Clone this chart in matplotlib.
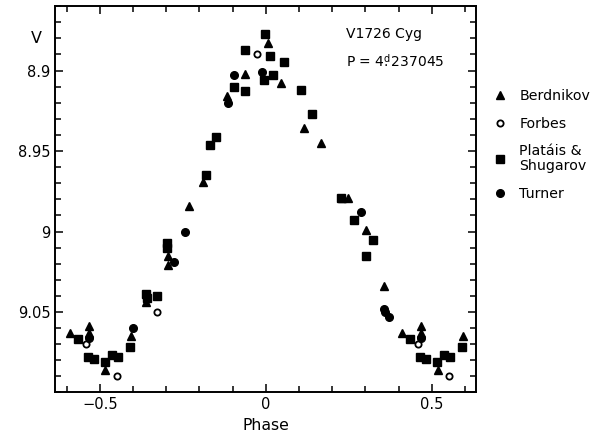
import numpy as np
import matplotlib
matplotlib.use("Agg")
import matplotlib.pyplot as plt
from matplotlib.ticker import MultipleLocator, FuncFormatter

plt.rcParams['font.family'] = ['DejaVu Sans']
plt.rcParams['mathtext.fontset'] = 'dejavusans'

## phase, V  (one cycle; points with phase >= 0.4 are repeated at phase-1)
berd_phase = [-0.362, -0.296, -0.294, -0.232, -0.188, -0.116, -0.062, 0.007, 0.047,
              0.116, 0.165, 0.229, 0.246, 0.303, 0.357, 0.411, 0.467, 0.467, 0.517, 0.594]
berd_v = [9.044, 9.015, 9.021, 8.984, 8.969, 8.916, 8.902, 8.883, 8.908,
          8.936, 8.945, 8.979, 8.979, 8.999, 9.034, 9.063, 9.059, 9.063, 9.086, 9.065]

forbes_phase = [-0.327, -0.026, 0.458, 0.551]
forbes_v = [9.050, 8.890, 9.070, 9.090]

plat_phase = [-0.362, -0.359, -0.327, -0.298, -0.298, -0.181, -0.169, -0.151, -0.097,
              -0.062, -0.062, -0.007, -0.003, 0.012, 0.023, 0.055, 0.107, 0.140,
              0.226, 0.266, 0.301, 0.322, 0.435, 0.463, 0.482, 0.515, 0.537, 0.554, 0.592]
plat_v = [9.039, 9.041, 9.040, 9.007, 9.010, 8.965, 8.946, 8.941, 8.910,
          8.887, 8.913, 8.906, 8.877, 8.891, 8.903, 8.895, 8.912, 8.927,
          8.979, 8.993, 9.015, 9.005, 9.067, 9.078, 9.079, 9.081, 9.077, 9.078, 9.072]

turner_phase = [-0.399, -0.278, -0.244, -0.113, -0.095, -0.013, 0.285, 0.355, 0.358, 0.370, 0.467]
turner_v = [9.060, 9.019, 9.000, 8.920, 8.903, 8.901, 8.988, 9.048, 9.050, 9.053, 9.066]

y_ticks = [8.9, 8.95, 9.0, 9.05]
x_ticks = [-0.5, 0, 0.5]


def wrap(phase, v):
    ## repeat the cycle so the diagram covers -0.6 .. 0.6
    phase = np.array(phase)
    v = np.array(v)
    sel = phase >= 0.4
    return np.concatenate([phase, phase[sel] - 1]), np.concatenate([v, v[sel]])


fig = plt.figure(figsize=(6.08, 4.40), dpi=100)
ax = fig.add_axes([0.091, 0.108, 0.692, 0.878])

p, v = wrap(berd_phase, berd_v)
ax.plot(p, v, '^', color='k', ms=6, ls='none', label='Berdnikov')
p, v = wrap(forbes_phase, forbes_v)
ax.plot(p, v, 'o', mfc='white', mec='k', mew=1.3, ms=4.5, ls='none', label='Forbes')
p, v = wrap(plat_phase, plat_v)
ax.plot(p, v, 's', color='k', ms=5.5, ls='none', label='Plat\u00e1is &\nShugarov')
p, v = wrap(turner_phase, turner_v)
ax.plot(p, v, 'o', color='k', ms=5.5, ls='none', label='Turner')

ax.set_xlim(-0.634, 0.633)
ax.set_ylim(9.1, 8.86)
ax.set_xticks(x_ticks)
ax.set_yticks(y_ticks)
ax.xaxis.set_minor_locator(MultipleLocator(0.1))
ax.yaxis.set_minor_locator(MultipleLocator(0.01))
ax.xaxis.set_major_formatter(FuncFormatter(lambda x, pos: ('%g' % x).replace('-', '\u2212')))
ax.yaxis.set_major_formatter(FuncFormatter(lambda y, pos: '%g' % y))
ax.tick_params(which='both', direction='in', top=True, right=True, labelsize=10.5)
ax.tick_params(which='major', length=6, width=1.1)
ax.tick_params(which='minor', length=4, width=1.1)
for s in ax.spines.values():
    s.set_linewidth(1.4)

ax.set_xlabel('Phase', fontsize=11.3, labelpad=4)
ax.text(-0.044, 0.917, 'V', transform=ax.transAxes, fontsize=11.5, ha='center', va='center')

ax.text(0.69, 0.928, 'V1726 Cyg', transform=ax.transAxes, fontsize=10, ha='left', va='center')
ax.text(0.69, 0.858, r'P = 4$\overset{\mathrm{d}}{.}$237045', transform=ax.transAxes,
        fontsize=10, ha='left', va='center')

leg = ax.legend(loc='upper left', bbox_to_anchor=(1.03, 0.80), frameon=False, fontsize=10.2,
                handlelength=0.8, handletextpad=0.95, labelspacing=0.95, borderaxespad=0)
for t in leg.get_texts():
    t.set_linespacing(1.1)

fig.savefig('out.png', dpi=100)
